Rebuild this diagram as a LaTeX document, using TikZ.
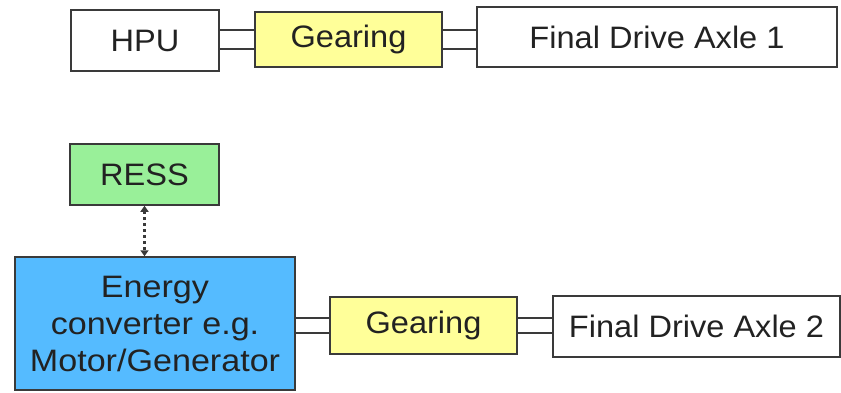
\documentclass[tikz,border=0pt]{standalone}
\usepackage{fontspec}
\setmainfont[FakeStretch=1.05]{Liberation Sans}
\newfontfamily\convfont[FakeStretch=1.1]{Liberation Sans}
\usetikzlibrary{calc,arrows.meta}
\definecolor{boxline}{HTML}{3A3A3A}
\definecolor{txt}{HTML}{222222}
\definecolor{gearfill}{HTML}{FFFF99}
\definecolor{ressfill}{HTML}{99F099}
\definecolor{convfill}{HTML}{55BBFF}
\tikzset{
  blk/.style={draw=boxline, line width=1.5pt, rectangle, inner sep=0pt, text=txt,
    font=\fontsize{31}{37}\selectfont, align=center},
  shaft/.style={draw=boxline, line width=1.5pt},
  link/.style={draw=boxline, line width=2.5pt, dash pattern=on 2.5pt off 3.5pt,
    {Triangle[length=6pt,width=8pt]}-{Triangle[length=6pt,width=8pt]}}
}
\begin{document}
\begin{tikzpicture}[x=1pt,y=-1pt]
\useasboundingbox (0,0) rectangle (841,392);
\node[blk, minimum width=148pt, minimum height=61pt] (hpu) at (145,40.5) {HPU};
\node[blk, fill=gearfill, minimum width=187pt, minimum height=55pt] (g1) at (348.5,39.5) {Gearing};
\node[blk, minimum width=360pt, minimum height=60pt] (fd1) at (657,37) {Final Drive Axle 1};
\node[blk, fill=ressfill, minimum width=149pt, minimum height=61pt] (ress) at (144.5,174.5) {RESS};
\node[blk, fill=convfill, minimum width=280pt, minimum height=133pt, font=\convfont\fontsize{31}{37}\selectfont] (conv) at (155,323.5) {Energy\\converter e.g.\\Motor/Generator};
\node[blk, fill=gearfill, minimum width=187pt, minimum height=57pt] (g2) at (423.5,325.5) {Gearing};
\node[blk, minimum width=287pt, minimum height=61pt] (fd2) at (696.5,326.5) {Final Drive Axle 2};
% shafts top
\draw[shaft] ($(hpu.east|-g1.center)+(0,-9.5)$) -- ($(g1.west)+(0,-9.5)$);
\draw[shaft] ($(hpu.east|-g1.center)+(0,9.5)$) -- ($(g1.west)+(0,9.5)$);
\draw[shaft] ($(g1.east)+(0,-9.5)$) -- ($(fd1.west|-g1.center)+(0,-9.5)$);
\draw[shaft] ($(g1.east)+(0,9.5)$) -- ($(fd1.west|-g1.center)+(0,9.5)$);
% shafts bottom
\draw[shaft] ($(conv.east|-g2.center)+(0,-7.5)$) -- ($(g2.west)+(0,-7.5)$);
\draw[shaft] ($(conv.east|-g2.center)+(0,7.5)$) -- ($(g2.west)+(0,7.5)$);
\draw[shaft] ($(g2.east)+(0,-7.5)$) -- ($(fd2.west|-g2.center)+(0,-7.5)$);
\draw[shaft] ($(g2.east)+(0,7.5)$) -- ($(fd2.west|-g2.center)+(0,7.5)$);
% dotted link
\draw[link] (ress.south) -- (ress.south|-conv.north);
\end{tikzpicture}
\end{document}
